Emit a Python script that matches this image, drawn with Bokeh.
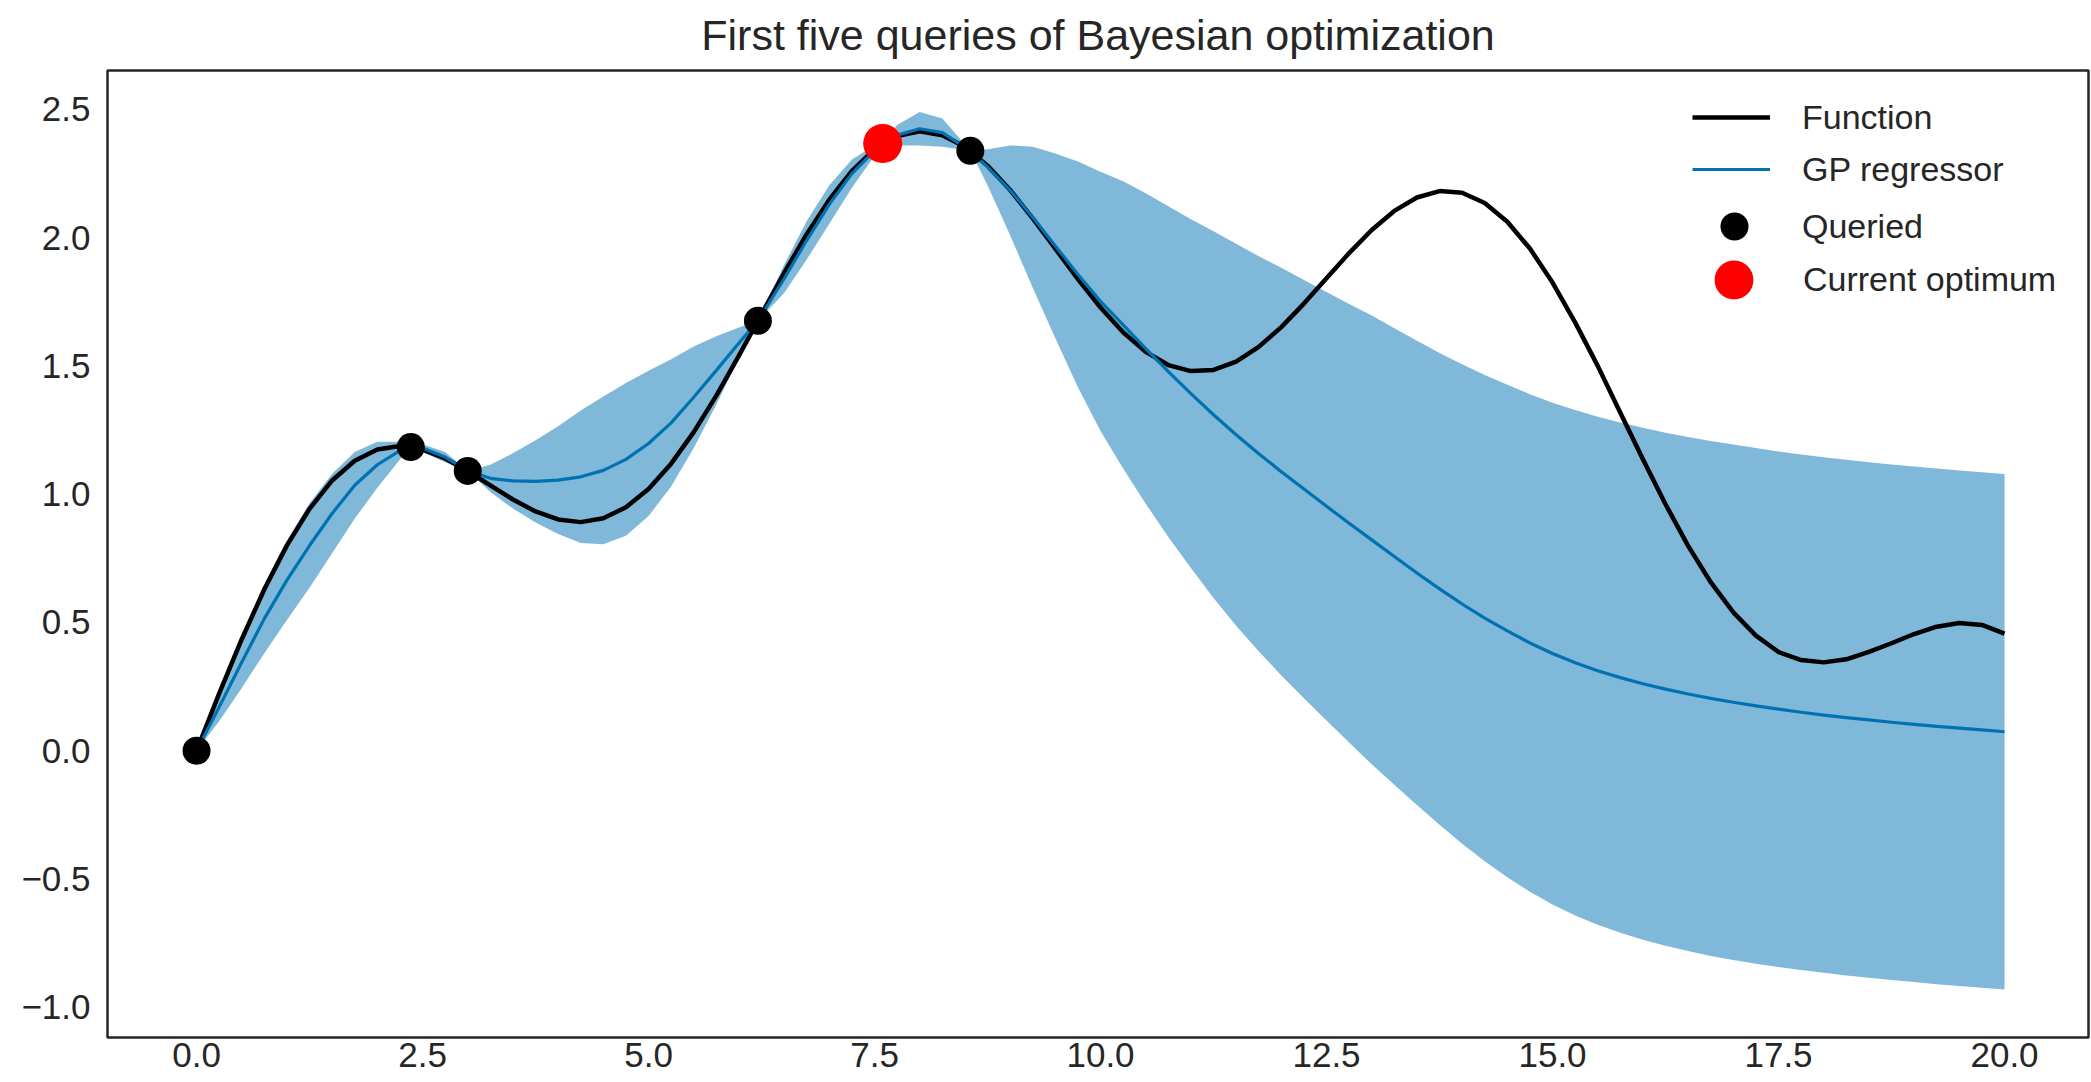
import numpy as np
from bokeh.plotting import figure
from bokeh.models import (ColumnDataSource, Range1d, FixedTicker, Legend, LegendItem)
from bokeh.embed import file_html
from bokeh.resources import INLINE

# ---------------- data ----------------
title_text = "First five queries of Bayesian optimization"

func_x = [i * 0.25 for i in range(81)]
func_y = [0.000, 0.2225, 0.4347, 0.6296, 0.8007, 0.9433, 1.0537, 1.1308, 1.1746, 1.1878,
          1.1742, 1.1396, 1.0906, 1.0346, 0.9796, 0.9330, 0.9016, 0.8913, 0.9063, 0.9491,
          1.0205, 1.1193, 1.2422, 1.3846, 1.5403, 1.7022, 1.8626, 2.0138, 2.1485, 2.2604,
          2.3440, 2.3960, 2.4147, 2.3999, 2.3543, 2.2811, 2.1861, 2.0757, 1.9574, 1.8390,
          1.7280, 1.6315, 1.5552, 1.5036, 1.4800, 1.4848, 1.5172, 1.5744, 1.6517, 1.7432,
          1.8418, 1.9401, 2.0301, 2.1046, 2.1569, 2.1819, 2.1753, 2.1356, 2.0625, 1.9578,
          1.8251, 1.6699, 1.5004, 1.3178, 1.1360, 0.9609, 0.7988, 0.6571, 0.5393, 0.4490,
          0.3849, 0.3533, 0.3445, 0.3566, 0.3858, 0.4190, 0.4550, 0.4837, 0.4978, 0.4906,
          0.4565]

gp_x = [0.0, 0.25, 0.5, 0.75, 1.0, 1.25, 1.5, 1.75, 2.0, 2.25,
        2.37, 2.5, 2.75, 3.0,
        3.25, 3.5, 3.75, 4.0, 4.25, 4.5, 4.75, 5.0, 5.25, 5.5, 5.75, 6.0,
        6.21, 6.5, 6.75, 7.0, 7.25, 7.5, 7.59, 7.75, 8.0, 8.25, 8.56,
        8.75, 9.0, 9.25, 9.5, 9.75, 10.0, 10.25, 10.5, 10.75, 11.0,
        11.25, 11.5, 11.75, 12.0, 12.25, 12.5, 12.75, 13.0, 13.25, 13.5,
        13.75, 14.0, 14.25, 14.5, 14.75, 15.0, 15.25, 15.5, 15.75, 16.0,
        16.25, 16.5, 16.75, 17.0, 17.25, 17.5, 17.75, 18.0, 18.25, 18.5,
        18.75, 19.0, 19.25, 19.5, 19.75, 20.0]
gp_mean = [0.000, 0.170, 0.345, 0.515, 0.665, 0.800, 0.925, 1.035, 1.115, 1.170,
           1.184, 1.180, 1.145, 1.091,
           1.062, 1.052, 1.050, 1.055, 1.068, 1.093, 1.136, 1.198, 1.278, 1.378, 1.483, 1.590,
           1.676, 1.840, 1.990, 2.130, 2.250, 2.340, 2.367, 2.400, 2.425, 2.410, 2.339,
           2.275, 2.185, 2.080, 1.968, 1.857, 1.752, 1.660, 1.568, 1.478, 1.392,
           1.310, 1.232, 1.158, 1.088, 1.020, 0.953, 0.887, 0.822, 0.757, 0.693,
           0.631, 0.572, 0.517, 0.467, 0.420, 0.379, 0.343, 0.312, 0.285, 0.261,
           0.240, 0.221, 0.204, 0.189, 0.175, 0.162, 0.150, 0.139, 0.129, 0.120,
           0.111, 0.103, 0.095, 0.088, 0.081, 0.074]
gp_std = [0.000, 0.055, 0.100, 0.135, 0.155, 0.165, 0.155, 0.130, 0.090, 0.035,
          0.000, 0.015, 0.020, 0.000,
          0.053, 0.108, 0.160, 0.210, 0.258, 0.288, 0.298, 0.283, 0.248, 0.198, 0.133, 0.060,
          0.000, 0.055, 0.075, 0.075, 0.055, 0.020, 0.000, 0.040, 0.065, 0.055, 0.000,
          0.070, 0.175, 0.275, 0.360, 0.440, 0.505, 0.560, 0.605, 0.645, 0.680,
          0.715, 0.745, 0.770, 0.795, 0.815, 0.835, 0.855, 0.875, 0.890, 0.905,
          0.920, 0.935, 0.948, 0.960, 0.970, 0.978, 0.985, 0.990, 0.995, 0.998,
          1.000, 1.002, 1.004, 1.005, 1.005, 1.005, 1.005, 1.005, 1.005, 1.005,
          1.005, 1.005, 1.005, 1.005, 1.005, 1.005]

queried_x = [0.0, 2.37, 3.0, 6.21, 7.59, 8.56]
queried_y = [0.0, 1.184, 1.091, 1.676, 2.367, 2.339]
optimum_x = [7.59]
optimum_y = [2.367]

x_ticks = [0.0, 2.5, 5.0, 7.5, 10.0, 12.5, 15.0, 17.5, 20.0]
x_tick_labels = ["0.0", "2.5", "5.0", "7.5", "10.0", "12.5", "15.0", "17.5", "20.0"]
y_ticks = [-1.0, -0.5, 0.0, 0.5, 1.0, 1.5, 2.0, 2.5]
y_tick_labels = ["\u22121.0", "\u22120.5", "0.0", "0.5", "1.0", "1.5", "2.0", "2.5"]

legend_labels = ["Function", "GP regressor", "Queried", "Current optimum"]

# ---------------- styling ----------------
TEXT = "#262626"
BLUE = "#0072B2"
FONT = "Liberation Sans"

mean = np.array(gp_mean)
std = np.array(gp_std)
gp_src = ColumnDataSource(dict(x=gp_x, mean=gp_mean,
                               lower=(mean - std).tolist(), upper=(mean + std).tolist()))
fn_src = ColumnDataSource(dict(x=func_x, y=func_y))
q_src = ColumnDataSource(dict(x=queried_x, y=queried_y))
o_src = ColumnDataSource(dict(x=optimum_x, y=optimum_y))

p = figure(width=2091, height=1082,
           x_range=Range1d(-0.985, 20.929), y_range=Range1d(-1.118, 2.652),
           output_backend="svg", toolbar_location=None,
           min_border_left=107, min_border_right=3, min_border_top=70, min_border_bottom=45)

p.title.text = title_text
p.title.align = "center"
p.title.vertical_align = "top"
p.title.text_font = FONT
p.title.text_font_size = "43px"
p.title.text_font_style = "normal"
p.title.text_color = TEXT
p.title.standoff = 20

p.xgrid.visible = False
p.ygrid.visible = False
p.outline_line_color = TEXT
p.outline_line_width = 2.5
p.background_fill_color = "white"
p.border_fill_color = "white"

for ax, ticks, labels, standoff in ((p.xaxis[0], x_ticks, x_tick_labels, 5),
                                    (p.yaxis[0], y_ticks, y_tick_labels, 17)):
    ax.ticker = FixedTicker(ticks=ticks)
    ax.major_label_overrides = dict(zip(ticks, labels))
    ax.major_tick_in = 0
    ax.major_tick_out = 0
    ax.minor_tick_in = 0
    ax.minor_tick_out = 0
    ax.axis_line_color = None
    ax.major_label_text_font = FONT
    ax.major_label_text_font_size = "35px"
    ax.major_label_text_color = TEXT
    ax.major_label_standoff = standoff

band = p.varea(x="x", y1="lower", y2="upper", source=gp_src, fill_color=BLUE, fill_alpha=0.5)
r_fn = p.line("x", "y", source=fn_src, line_color="black", line_width=4.5, line_join="round")
r_gp = p.line("x", "mean", source=gp_src, line_color=BLUE, line_width=3.2, line_join="round")
r_q = p.scatter("x", "y", source=q_src, size=28, fill_color="black", line_color=None)
r_o = p.scatter("x", "y", source=o_src, size=39, fill_color="#ff0000", line_color=None)


def make_legend(items, loc, gw, gh, standoff, spacing=0):
    lg = Legend(items=items, location=loc, orientation="vertical",
                padding=0, margin=0, spacing=spacing,
                glyph_width=gw, glyph_height=gh, label_height=gh,
                label_standoff=standoff,
                border_line_color=None, background_fill_alpha=0,
                label_text_font=FONT, label_text_font_size="34px",
                label_text_color=TEXT, label_text_baseline="middle")
    p.add_layout(lg)
    return lg


# legend boxes positioned in screen pixels from the frame's bottom-left corner
make_legend([LegendItem(label=legend_labels[0], renderers=[r_fn]),
             LegendItem(label=legend_labels[1], renderers=[r_gp])],
            (1585, 848), 78, 40, 32, spacing=12)
make_legend([LegendItem(label=legend_labels[2], renderers=[r_q])],
            (1592, 776), 70, 70, 33)
make_legend([LegendItem(label=legend_labels[3], renderers=[r_o])],
            (1578, 709), 97, 97, 21)

open("out.html", "w").write(file_html(p, INLINE))
